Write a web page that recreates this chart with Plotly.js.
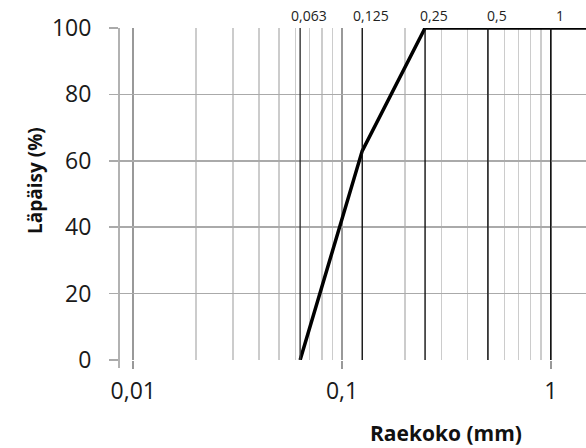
<!DOCTYPE html>
<html>
<head>
<meta charset="utf-8">
<script src="https://cdn.plot.ly/plotly-3.0.1.min.js"></script>
<style>html,body{margin:0;padding:0;background:#fff;}#chart{width:586px;height:448px;}</style>
</head>
<body>
<div id="chart"></div>
<script>
// Data
var grainSize = [0.063, 0.125, 0.25, 0.5, 1, 2];
var passing = [0, 63, 100, 100, 100, 100];
var sieveSizes = [0.063, 0.125, 0.25, 0.5, 1];
var sieveLabels = ["0,063", "0,125", "0,25", "0,5", "1"];
var xTickVals = [0.01, 0.1, 1];
var xTickText = ["0,01", "0,1", "1"];
var yTickVals = [0, 20, 40, 60, 80, 100];
var minorGrid = [0.02, 0.03, 0.04, 0.05, 0.06, 0.07, 0.08, 0.09,
                 0.2, 0.3, 0.4, 0.5, 0.6, 0.7, 0.8, 0.9];
var xTitle = "Raekoko (mm)";
var yTitle = "Läpäisy (%)";

var FONT = "Open Sans, Liberation Sans, sans-serif";

var traces = [{
  x: grainSize, y: passing, type: "scatter", mode: "lines",
  line: {color: "#000", width: 3.5}, hoverinfo: "skip", showlegend: false, cliponaxis: false
}];

var shapes = [];
var annotations = [];
sieveSizes.forEach(function (s, i) {
  shapes.push({type: "line", xref: "x", yref: "y", x0: s, x1: s, y0: 0, y1: 100,
    line: {color: i === 0 ? "#333" : "#111", width: 1.4}, layer: "above"});
  annotations.push({xref: "x", yref: "paper", x: Math.log10(s), y: 1, yanchor: "bottom",
    xanchor: "center", xshift: 9, yshift: 1, text: sieveLabels[i], showarrow: false,
    font: {family: FONT, size: 14, color: "#222"}});
});
// left axis line extension
shapes.push({type: "line", xref: "paper", yref: "paper", x0: 0, x1: 0, y0: -8/332, y1: 1,
  line: {color: "#999", width: 1.5}, layer: "below"});

annotations.push({xref: "paper", yref: "paper", x: (446 - 119) / 467, y: -(433 - 360) / 332,
  xanchor: "center", yanchor: "middle", text: "<b>" + xTitle + "</b>", showarrow: false,
  font: {family: FONT, size: 21, color: "#111"}});
annotations.push({xref: "paper", yref: "paper", x: -(119 - 35) / 467, y: (360 - 181) / 332,
  xanchor: "center", yanchor: "middle", textangle: -90, text: "<b>" + yTitle + "</b>", showarrow: false,
  font: {family: FONT, size: 19, color: "#111"}});

var layout = {
  width: 586, height: 448,
  margin: {l: 119, r: 0, t: 28, b: 88},
  paper_bgcolor: "#fff", plot_bgcolor: "#fff",
  showlegend: false,
  xaxis: {
    type: "log", range: [-2.0685, 0.169],
    tickmode: "array", tickvals: xTickVals, ticktext: xTickText,
    ticks: "outside", ticklen: 8, tickcolor: "#999", tickwidth: 2,
    showgrid: true, gridcolor: "#999", gridwidth: 2,
    minor: {tickmode: "array", tickvals: minorGrid, showgrid: true, gridcolor: "#cccccc", gridwidth: 1.5, ticks: ""},
    zeroline: false, showline: false,
    tickfont: {family: FONT, size: 23, color: "#1a1a1a"},
    ticklabelstandoff: 2
  },
  yaxis: {
    range: [0, 100], tickmode: "array", tickvals: yTickVals,
    ticks: "outside", ticklen: 9, tickcolor: "#aaa", tickwidth: 1.5,
    showgrid: true, gridcolor: "#aaa", gridwidth: 1.5,
    zeroline: false, showline: false,
    tickfont: {family: FONT, size: 23, color: "#1a1a1a"},
    ticklabelstandoff: 13
  },
  shapes: shapes,
  annotations: annotations
};

Plotly.newPlot("chart", traces, layout, {staticPlot: true, displayModeBar: false});
</script>
</body>
</html>
